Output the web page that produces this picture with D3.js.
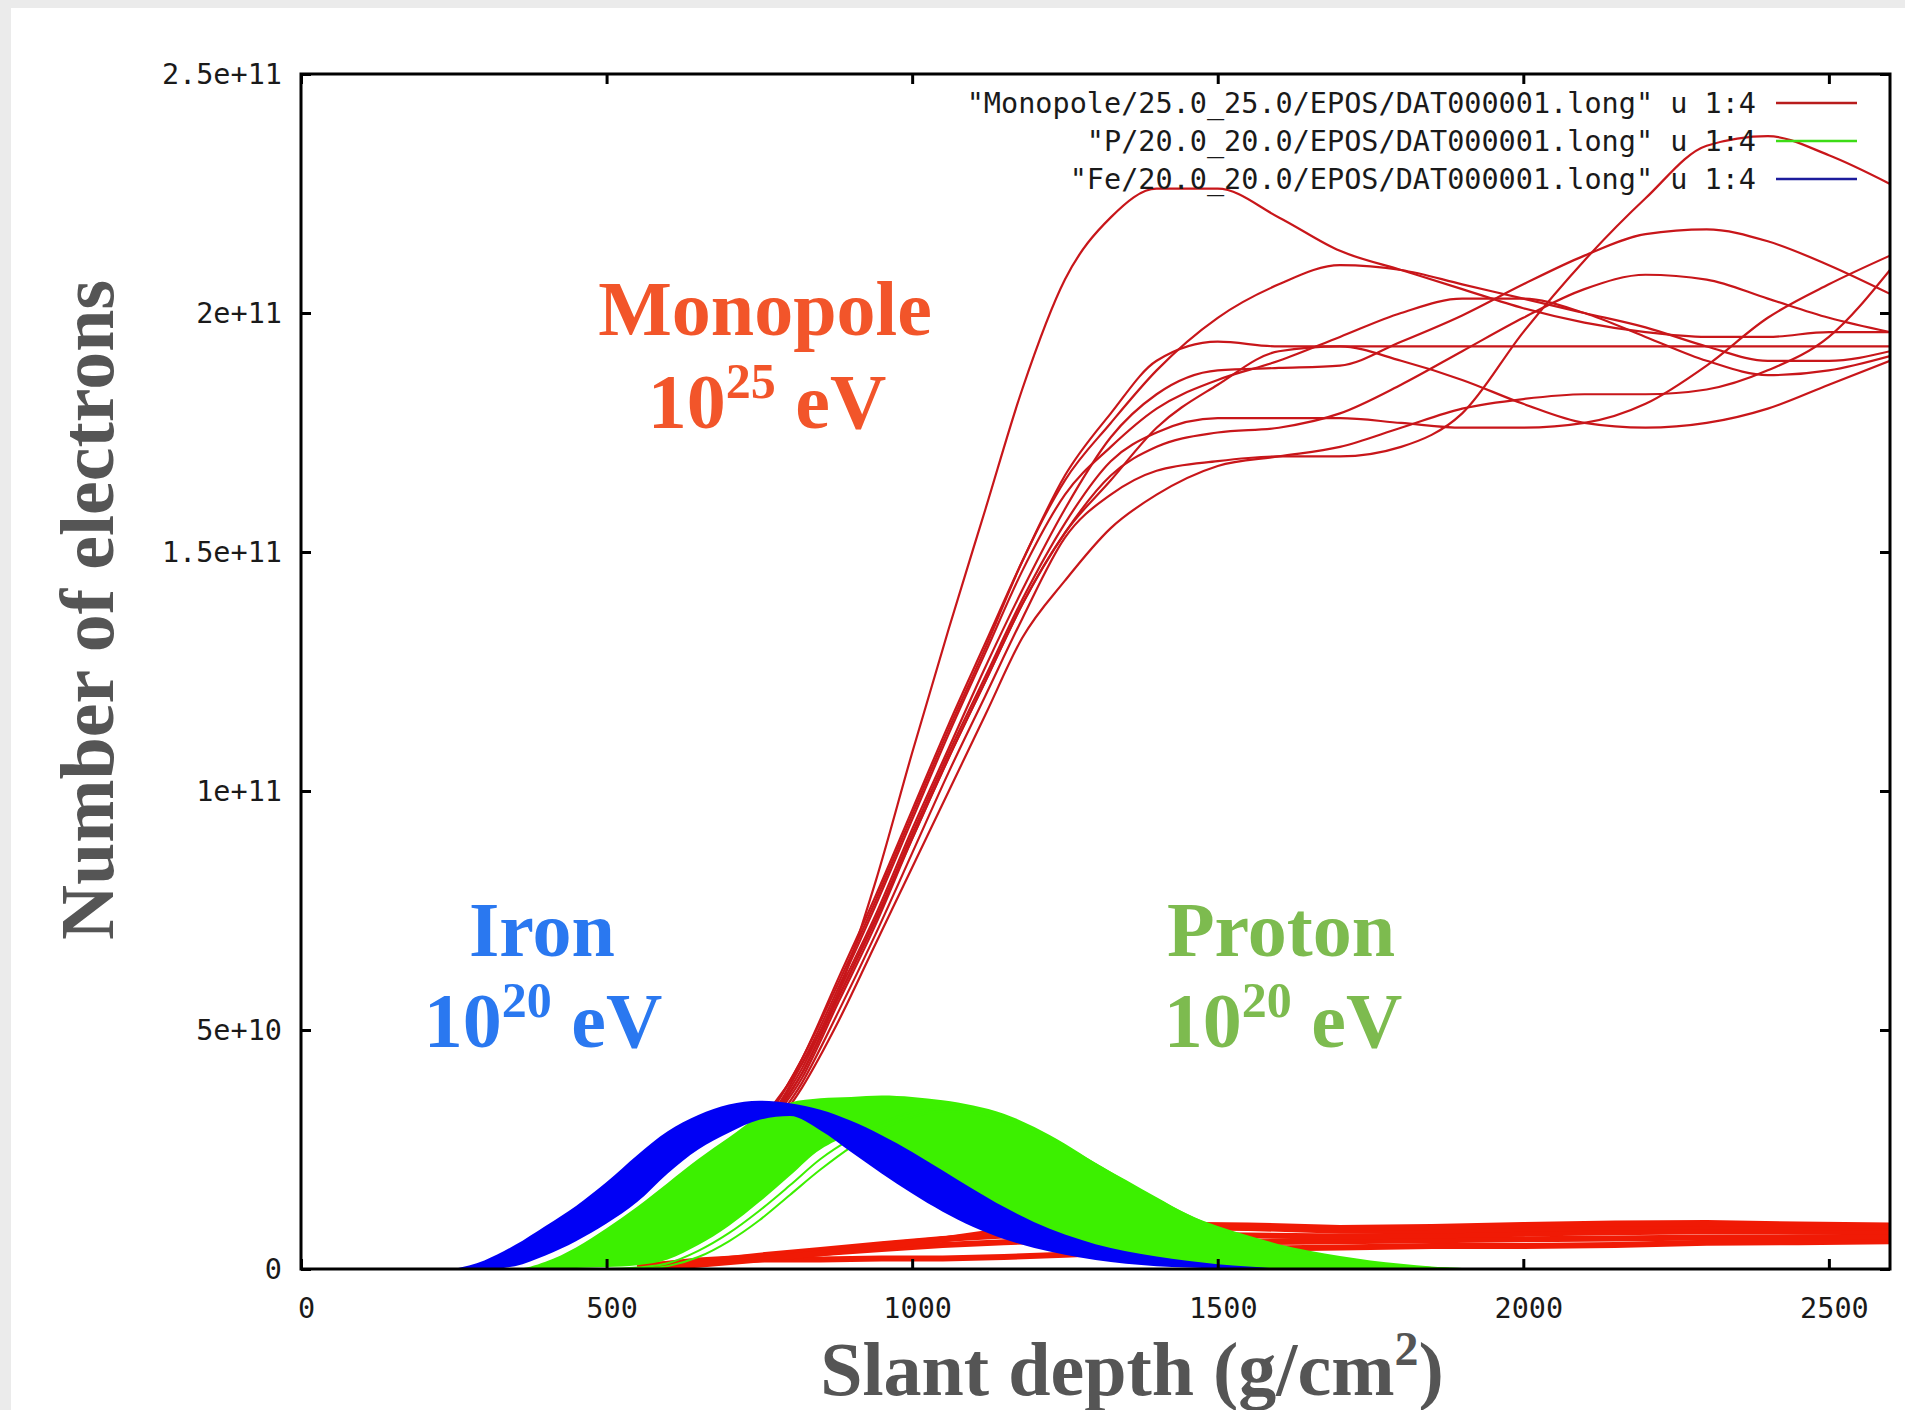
<!DOCTYPE html>
<html>
<head>
<meta charset="utf-8">
<script src="https://d3js.org/d3.v7.min.js"></script>
<style>
  body { margin: 0; background: #ebebeb; }
  svg { display: block; }
</style>
</head>
<body>
<div id="chart"></div>
<script>

    // slant depth grids (g/cm2); electron numbers below are in units of 1e10
    var monoDepth = [500, 600, 700, 760, 820, 880, 940, 1000, 1060, 1120, 1180, 1250, 1325,
        1400, 1500, 1600, 1700, 1800, 1900, 2000, 2100, 2200, 2300, 2400, 2500, 2600];

    var monoA = [0.1, 0.6, 1.9, 3.2, 4.3, 5.8, 8.1, 10.8, 13.4, 15.9, 18.4, 20.7, 22.0, 22.6, 22.6, 22.0, 21.3, 20.9, 20.5, 20.1, 19.8, 19.6, 19.5, 19.5, 19.6, 19.6];
    var monoB = [0.1, 0.5, 1.7, 2.8, 3.9, 5.4, 7.0, 8.7, 10.4, 12.0, 13.6, 15.3, 16.2, 16.7, 16.9, 17.0, 17.0, 17.2, 17.9, 19.6, 21.1, 22.4, 23.5, 23.7, 23.3, 22.7];
    var monoC = [0.1, 0.6, 2.0, 3.1, 4.4, 6.0, 7.7, 9.5, 11.3, 13.0, 14.8, 16.5, 17.7, 18.8, 19.9, 20.6, 21.0, 20.9, 20.6, 20.3, 20.0, 19.7, 19.3, 19.0, 19.0, 19.2];
    var monoD = [0.1, 0.6, 2.0, 3.1, 4.4, 6.1, 7.8, 9.6, 11.4, 13.1, 14.8, 16.6, 17.9, 19.0, 19.4, 19.3, 19.3, 19.3, 19.3, 19.3, 19.3, 19.3, 19.3, 19.3, 19.3, 19.3];
    var monoE = [0.1, 0.6, 1.9, 3.0, 4.2, 5.8, 7.4, 9.2, 10.9, 12.6, 14.2, 15.9, 17.4, 18.3, 18.8, 18.85, 18.9, 19.4, 19.95, 20.6, 21.2, 21.65, 21.75, 21.5, 21.0, 20.4];
    var monoF = [0.1, 0.6, 1.9, 3.0, 4.1, 5.7, 7.3, 9.1, 10.8, 12.4, 14.0, 15.6, 16.9, 17.5, 17.8, 17.8, 17.8, 17.7, 17.6, 17.6, 17.7, 18.1, 18.9, 19.9, 20.6, 21.2];
    var monoG = [0.1, 0.5, 1.8, 2.9, 4.0, 5.6, 7.2, 9.0, 10.7, 12.3, 13.9, 15.4, 16.6, 17.2, 17.5, 17.6, 17.9, 18.5, 19.2, 19.9, 20.5, 20.8, 20.7, 20.3, 19.9, 19.6];
    var monoH = [0.1, 0.5, 1.6, 2.7, 3.8, 5.2, 6.8, 8.4, 10.0, 11.6, 13.2, 14.4, 15.5, 16.2, 16.8, 17.0, 17.2, 17.6, 18.0, 18.2, 18.3, 18.3, 18.4, 18.8, 19.5, 20.9];
    var monoI = [0.1, 0.6, 1.9, 3.0, 4.3, 5.9, 7.6, 9.4, 11.2, 12.9, 14.6, 16.2, 17.2, 18.0, 18.6, 19.0, 19.5, 20.0, 20.3, 20.3, 20.0, 19.5, 19.0, 18.7, 18.8, 19.1];
    var monoJ = [0.1, 0.5, 1.8, 2.9, 4.1, 5.7, 7.3, 9.0, 10.7, 12.3, 13.9, 15.4, 16.5, 17.6, 18.5, 19.2, 19.3, 19.0, 18.6, 18.1, 17.7, 17.6, 17.7, 18.0, 18.5, 19.0];

    // the flat monopole showers running along the bottom
    var monoLowDepth = [550, 650, 750, 850, 950, 1050, 1150, 1250, 1400, 1550, 1700, 1850, 2000, 2150, 2300, 2450, 2600];
    var monoLow1 = [0.05, 0.15, 0.2, 0.2, 0.22, 0.22, 0.25, 0.3, 0.38, 0.42, 0.45, 0.48, 0.48, 0.5, 0.55, 0.56, 0.58];
    var monoLow2 = [0.04, 0.18, 0.25, 0.33, 0.42, 0.5, 0.56, 0.6, 0.58, 0.56, 0.58, 0.6, 0.62, 0.64, 0.66, 0.66, 0.68];
    var monoLow3 = [0.03, 0.14, 0.28, 0.4, 0.52, 0.63, 0.7, 0.74, 0.72, 0.7, 0.68, 0.7, 0.74, 0.77, 0.79, 0.78, 0.78];
    var monoLow4 = [0.02, 0.11, 0.23, 0.37, 0.5, 0.62, 0.76, 0.84, 0.88, 0.86, 0.8, 0.8, 0.84, 0.87, 0.9, 0.88, 0.87];
    var monoLow5 = [0.01, 0.09, 0.2, 0.33, 0.46, 0.62, 0.8, 0.88, 0.93, 0.91, 0.86, 0.88, 0.92, 0.95, 0.96, 0.93, 0.91];

    // proton and iron bundles: upper and lower envelope of all showers
    var bandDepth = [250, 300, 350, 400, 450, 500, 550, 600, 650, 700, 750, 800, 850, 900, 950, 1000, 1050,
        1100, 1150, 1200, 1250, 1300, 1350, 1400, 1450, 1500, 1550, 1600, 1650, 1700, 1750, 1800, 1850, 1900];
    var ironUpper = [0, 0.18, 0.5, 0.9, 1.32, 1.82, 2.38, 2.88, 3.22, 3.44, 3.52, 3.47, 3.33, 3.1, 2.8, 2.45, 2.06,
        1.67, 1.3, 0.98, 0.72, 0.52, 0.37, 0.26, 0.17, 0.1, 0.05, 0.01, 0, 0, 0, 0, 0, 0];
    var ironLower = [0, 0, 0.06, 0.28, 0.58, 0.95, 1.4, 2.0, 2.5, 2.85, 3.12, 3.2, 2.9, 2.45, 2.0, 1.58, 1.2,
        0.88, 0.63, 0.44, 0.3, 0.19, 0.11, 0.06, 0.03, 0.01, 0, 0, 0, 0, 0, 0, 0, 0];
    var protonUpper = [0, 0, 0, 0.15, 0.45, 0.85, 1.3, 1.8, 2.3, 2.75, 3.2, 3.48, 3.57, 3.6, 3.63, 3.6, 3.53,
        3.42, 3.25, 2.97, 2.62, 2.22, 1.86, 1.5, 1.15, 0.9, 0.7, 0.52, 0.38, 0.27, 0.18, 0.11, 0.05, 0];
    var protonLower = [0, 0, 0, 0, 0.02, 0.04, 0.08, 0.2, 0.5, 0.9, 1.4, 1.95, 2.5, 2.75, 2.55, 2.15, 1.75,
        1.4, 1.08, 0.8, 0.56, 0.38, 0.25, 0.15, 0.08, 0.03, 0, 0, 0, 0, 0, 0, 0, 0];
    // two late proton showers that stand apart from the bundle
    var protonLate1 = [0, 0, 0, 0, 0, 0, 0.03, 0.12, 0.38, 0.75, 1.22, 1.75, 2.3, 2.72, 3.05, 3.28, 3.35,
        3.28, 3.1, 2.83, 2.5, 2.12, 1.75, 1.4, 1.08, 0.8, 0.58, 0.4, 0.27, 0.17, 0.1, 0.05, 0.02, 0];
    var protonLate2 = [0, 0, 0, 0, 0, 0, 0, 0.06, 0.25, 0.58, 1.02, 1.55, 2.08, 2.55, 2.92, 3.18, 3.3,
        3.27, 3.12, 2.88, 2.56, 2.2, 1.82, 1.46, 1.13, 0.84, 0.61, 0.42, 0.28, 0.18, 0.11, 0.06, 0.02, 0];

    var xTicks = [0, 500, 1000, 1500, 2000, 2500];
    var yTicks = [0, 5e10, 1e11, 1.5e11, 2e11, 2.5e11];
    var yTickLabels = ["0", "5e+10", "1e+11", "1.5e+11", "2e+11", "2.5e+11"];
    var legendLabels = ['"Monopole/25.0_25.0/EPOS/DAT000001.long" u 1:4',
        '"P/20.0_20.0/EPOS/DAT000001.long" u 1:4',
        '"Fe/20.0_20.0/EPOS/DAT000001.long" u 1:4'];
    var legendColors = ["#b81c1c", "#3ddc16", "#1c1c9c"];

    var W = 1905, H = 1410;
    var plotL = 301, plotR = 1890, plotT = 74, plotB = 1269;

    var svg = d3.select("#chart").append("svg")
        .attr("width", W)
        .attr("height", H);

    // white slide area
    svg.append("rect")
        .attr("x", 11).attr("y", 8)
        .attr("width", W - 11).attr("height", H - 8)
        .attr("fill", "white");

    var x = d3.scaleLinear().domain([0, 2600]).range([plotL, plotR]);
    var y = d3.scaleLinear().domain([0, 2.5e11]).range([plotB, plotT]);

    svg.append("clipPath").attr("id", "plotclip")
        .append("rect")
        .attr("x", plotL).attr("y", plotT)
        .attr("width", plotR - plotL).attr("height", plotB - plotT);

    var plot = svg.append("g").attr("clip-path", "url(#plotclip)");

    function pts(depth, vals) {
        return depth.map(function (d, i) { return [d, vals[i]]; });
    }
    var line = d3.line()
        .x(function (p) { return x(p[0]); })
        .y(function (p) { return y(p[1] * 1e10); })
        .curve(d3.curveMonotoneX);
    var lineFlat = d3.line()
        .x(function (p) { return x(p[0]); })
        .y(function (p) { return y(p[1] * 1e10); });
    var band = d3.area()
        .x(function (p) { return x(p[0]); })
        .y0(function (p) { return y(p[2] * 1e10); })
        .y1(function (p) { return y(p[1] * 1e10); })
        .curve(d3.curveMonotoneX);

    function bandPts(upper, lower) {
        return bandDepth.map(function (d, i) { return [d, upper[i], lower[i]]; });
    }

    // key (drawn first, the curves run over it)
    var tickFont = "'DejaVu Sans Mono', monospace";
    var key = svg.append("g");
    legendLabels.forEach(function (t, i) {
        var yy = 103 + i * 38;
        key.append("text")
            .attr("x", 1756).attr("y", yy + 10)
            .attr("text-anchor", "end")
            .attr("font-family", tickFont)
            .attr("font-size", 28.5)
            .attr("fill", "#1a1a1a")
            .text(t);
        key.append("line")
            .attr("x1", 1776).attr("x2", 1857)
            .attr("y1", yy).attr("y2", yy)
            .attr("stroke", legendColors[i])
            .attr("stroke-width", 2.5);
    });

    // monopole, flat low showers
    [monoLow1, monoLow2, monoLow3, monoLow4, monoLow5].forEach(function (v) {
        plot.append("path")
            .attr("d", lineFlat(pts(monoLowDepth, v)))
            .attr("fill", "none")
            .attr("stroke", "#f01a05")
            .attr("stroke-width", 6);
    });

    // monopole, big showers
    [monoH, monoG, monoF, monoJ, monoE, monoI, monoD, monoC, monoB, monoA].forEach(function (v) {
        plot.append("path")
            .attr("d", line(pts(monoDepth, v)))
            .attr("fill", "none")
            .attr("stroke", "#c8161a")
            .attr("stroke-width", 2.2);
    });

    // proton
    plot.append("path")
        .attr("d", band(bandPts(protonUpper, protonLower)))
        .attr("fill", "#3cf000");
    [protonLate1, protonLate2].forEach(function (v) {
        plot.append("path")
            .attr("d", line(pts(bandDepth, v)))
            .attr("fill", "none")
            .attr("stroke", "#3cf000")
            .attr("stroke-width", 2);
    });

    // iron
    plot.append("path")
        .attr("d", band(bandPts(ironUpper, ironLower)))
        .attr("fill", "#0000f5");

    // axes: inward ticks on all four sides, like gnuplot
    var axB = svg.append("g")
        .attr("transform", "translate(0," + plotB + ")")
        .call(d3.axisBottom(x).tickValues(xTicks).tickSizeInner(-10).tickSizeOuter(0).tickPadding(29)
            .tickFormat(d3.format("d")));
    var axL = svg.append("g")
        .attr("transform", "translate(" + plotL + ",0)")
        .call(d3.axisLeft(y).tickValues(yTicks).tickSizeInner(-10).tickSizeOuter(0).tickPadding(19)
            .tickFormat(function (d, i) { return yTickLabels[i]; }));
    var axT = svg.append("g")
        .attr("transform", "translate(0," + plotT + ")")
        .call(d3.axisTop(x).tickValues(xTicks).tickSizeInner(-10).tickSizeOuter(0).tickFormat(""));
    var axR = svg.append("g")
        .attr("transform", "translate(" + plotR + ",0)")
        .call(d3.axisRight(y).tickValues(yTicks).tickSizeInner(-10).tickSizeOuter(0).tickFormat(""));

    [axB, axL, axT, axR].forEach(function (a) {
        a.select(".domain").remove();
        a.selectAll(".tick line").attr("stroke", "black").attr("stroke-width", 3);
        a.selectAll(".tick text")
            .attr("font-family", tickFont)
            .attr("font-size", 28.5)
            .attr("fill", "#1a1a1a");
    });
    axB.selectAll(".tick text").attr("x", 5);

    svg.append("rect")
        .attr("x", plotL).attr("y", plotT)
        .attr("width", plotR - plotL).attr("height", plotB - plotT)
        .attr("fill", "none")
        .attr("stroke", "black")
        .attr("stroke-width", 3);

    // annotations
    var serif = "'Liberation Serif', 'Times New Roman', serif";
    function label(cx, by, main, sup, rest, color) {
        var t = svg.append("text")
            .attr("x", cx).attr("y", by)
            .attr("text-anchor", "middle")
            .attr("font-family", serif)
            .attr("font-weight", "bold")
            .attr("font-size", 78)
            .attr("fill", color);
        t.append("tspan").text(main);
        if (sup) {
            t.append("tspan").attr("dy", -30).attr("font-size", 50).text(sup);
            t.append("tspan").attr("dy", 30).text(rest);
        }
        return t;
    }
    label(765, 335, "Monopole", null, null, "#f2552a");
    label(767, 428, "10", "25", " eV", "#f2552a");
    label(542, 956, "Iron", null, null, "#2a78f0");
    label(543, 1047, "10", "20", " eV", "#2a78f0");
    label(1281, 956, "Proton", null, null, "#7dbb4f");
    label(1283, 1047, "10", "20", " eV", "#7dbb4f");

    // axis titles
    var xt = svg.append("text")
        .attr("x", 1132).attr("y", 1395)
        .attr("text-anchor", "middle")
        .attr("font-family", serif)
        .attr("font-weight", "bold")
        .attr("font-size", 76)
        .attr("fill", "#555555");
    xt.append("tspan").text("Slant depth (g/cm");
    xt.append("tspan").attr("dy", -30).attr("font-size", 48).text("2");
    xt.append("tspan").attr("dy", 30).text(")");

    svg.append("text")
        .attr("transform", "translate(113,610) rotate(-90)")
        .attr("text-anchor", "middle")
        .attr("font-family", serif)
        .attr("font-weight", "bold")
        .attr("font-size", 76)
        .attr("fill", "#555555")
        .text("Number of electrons");

</script>
</body>
</html>
